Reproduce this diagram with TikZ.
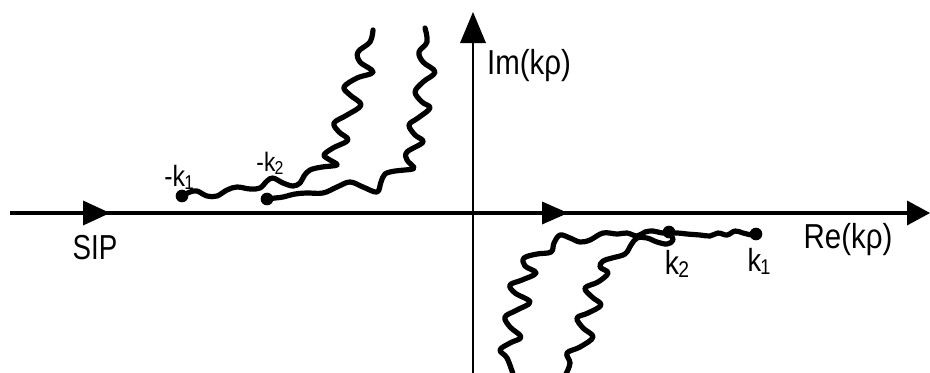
\documentclass[tikz,border=0pt]{standalone}
\usepackage{fontspec}
\usepackage{graphicx}
\setmainfont{Liberation Sans}
\newcommand\sqz[2]{\scalebox{#1}[1]{#2}}
\newcommand\kl[4]{\fontsize{#3}{#3}\selectfont\sqz{0.85}{#1k\kern-0.03em\raisebox{-0.1em}{\fontsize{#4}{#4}\selectfont #2}}}
\begin{document}
\begin{tikzpicture}[x=0.75pt,y=-0.75pt,
  axis/.style={line width=3.2pt},
  vaxis/.style={line width=1.6pt},
  cut/.style={line width=3.9pt, line cap=round, line join=round},
  dotn/.style={circle, fill=black, inner sep=0pt, minimum size=9.5pt},
  lab/.style={inner sep=0pt}]
\useasboundingbox (0,0) rectangle (930,372);
% axes
\coordinate (xl) at (10,213);
\coordinate (xr) at (908,213);
\coordinate (yb) at (473,374);
\coordinate (yt) at (473,40);
\draw[axis] (xl) -- (xr);
\draw[vaxis] (yb) -- (yt);
\fill (907,200.5) -- (930,213) -- (907,225.5) -- cycle;
\fill (460,43) -- (473,12) -- (486,43) -- cycle;
\fill (83,200.5) -- (110,213) -- (83,225.5) -- cycle;
\fill (542,201.5) -- (568,213) -- (542,224.5) -- cycle;
% branch points
\node[dotn] (mk1) at (182,196) {};
\node[dotn] (mk2) at (267,199) {};
\node[dotn] (pk2) at (669,232) {};
\node[dotn] (pk1) at (756,234) {};
% branch cuts
\draw[cut] plot[smooth, tension=0.6] coordinates {
 (182,196) (190,192) (197,191) (207,196) (217,196) (227,190) (237,187) (250,189) (260,188) (267,181) (273,178) (283,183) (293,186) (300,183) (304,176) (310,170) (322,167) (337,165) (330,160) (324,155) (333,148) (348,140) (339,132) (334,123) (347,115) (361,105) (350,95) (344,87) (357,78) (373,72) (360,62) (358,52) (370,42) (373,30)};
\draw[cut] plot[smooth, tension=0.6] coordinates {
 (267,199) (275,198) (283,197) (295,194) (307,193) (323,193) (337,187) (350,182) (363,187) (377,192) (381,182) (385,174) (395,171) (405,170) (414,168) (407,160) (407,152) (423,142) (415,135) (409,125) (418,118) (430,108) (422,102) (415,92) (423,82) (435,72) (423,62) (419,52) (427,42) (425,28)};
\draw[cut] plot[smooth, tension=0.6] coordinates {
 (756,234) (752,235) (743,233) (735,231) (727,235) (718,233) (710,236) (700,235) (687,234) (677,233) (663,233) (653,231) (645,232) (637,236) (627,233) (617,234) (603,233) (590,240) (580,242) (570,238) (560,235) (554,243) (551,252) (537,254) (524,258) (525,266) (536,273) (522,280) (510,285) (515,293) (530,302) (517,310) (505,317) (510,327) (521,337) (510,343) (500,350) (507,358) (513,374)};
\draw[cut] plot[smooth, tension=0.6] coordinates {
 (669,232) (673,240) (667,244) (657,242) (647,238) (637,238) (631,245) (625,254) (612,258) (603,261) (600,267) (608,273) (598,282) (585,288) (592,297) (601,305) (588,313) (577,318) (583,328) (593,337) (580,347) (567,353) (570,363) (566,374)};
% labels
\node[lab] (im) at (529,66) {\fontsize{26}{26}\selectfont\sqz{0.85}{Im(kρ)}};
\node[lab] (re) at (848,240) {\fontsize{26}{26}\selectfont\sqz{0.85}{Re(kρ)}};
\node[lab] (sip) at (95,248) {\fontsize{26}{26}\selectfont\sqz{0.8}{SIP}};
\node[lab] (lmk1) at (179,177) {\kl{-}{1}{22}{15}};
\node[lab] (lmk2) at (270,163) {\kl{-}{2}{20}{14}};
\node[lab] (lk2) at (677,264) {\kl{}{2}{25}{17}};
\node[lab] (lk1) at (759,261) {\kl{}{1}{24}{16}};
\end{tikzpicture}
\end{document}
